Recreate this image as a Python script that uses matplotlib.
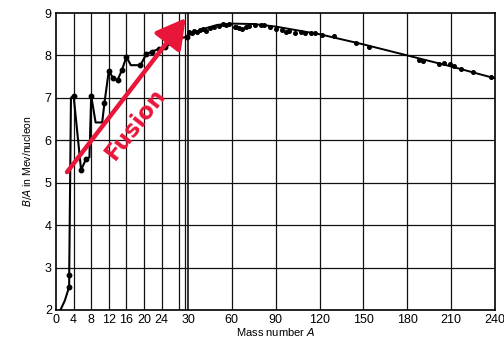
import numpy as np
import matplotlib
matplotlib.use("Agg")
import matplotlib.pyplot as plt

# ---- data ----
light_A = [1.0, 2.0, 3.0, 3.0, 3.4, 4.0, 5.7, 6.8, 7.6, 8.0, 9.0, 10.5, 11.0, 12.0, 13.0, 14.0, 15.0, 16.0,
           17.0, 18.0, 19.2, 20.5, 21.8, 23.3, 24.8, 26.4, 27.9, 29.8]
light_BA = [2.0, 2.22, 2.55, 2.82, 7.0, 7.05, 5.3, 5.55, 5.6, 7.05, 6.42, 6.42, 6.87, 7.64, 7.46, 7.42, 7.66, 7.97,
            7.77, 7.77, 7.77, 8.03, 8.09, 8.15, 8.20, 8.29, 8.40, 8.44]
light_dot_A = [3.0, 3.0, 4.0, 5.7, 6.8, 8.0, 11.0, 12.0, 13.0, 14.0, 15.0, 16.0, 19.2, 20.5, 21.8, 23.3, 24.8, 26.4, 27.9, 29.8]
light_dot_BA = [2.55, 2.82, 7.05, 5.3, 5.55, 7.05, 6.87, 7.64, 7.46, 7.42, 7.66, 7.97, 7.77, 8.03, 8.09, 8.15, 8.20, 8.29, 8.40, 8.44]

heavy_curve_A = [30, 40, 50, 60, 75, 90, 105, 120, 135, 150, 165, 180, 195, 210, 225, 240]
heavy_curve_BA = [8.47, 8.62, 8.72, 8.75, 8.74, 8.68, 8.59, 8.50, 8.38, 8.26, 8.13, 8.00, 7.87, 7.74, 7.60, 7.46]

heavy_dot_A = [31, 33, 34, 36, 38, 40, 42, 45, 48, 51, 54, 56, 58, 62, 63, 65, 67, 70, 72, 76, 80, 82, 86,
               90, 94, 97, 99, 103, 107, 110, 114, 117, 122, 130, 145, 154, 188, 191, 202, 205, 209, 212, 217, 225, 237]
heavy_dot_BA = [8.55, 8.52, 8.58, 8.56, 8.60, 8.62, 8.58, 8.64, 8.68, 8.70, 8.73, 8.72, 8.74, 8.66, 8.68, 8.64, 8.63,
                8.67, 8.69, 8.71, 8.72, 8.71, 8.68, 8.62, 8.59, 8.55, 8.57, 8.53, 8.56, 8.52, 8.54, 8.52, 8.49, 8.46,
                8.29, 8.19, 7.89, 7.88, 7.79, 7.81, 7.79, 7.75, 7.69, 7.60, 7.48]

x_ticks = [0, 4, 8, 12, 16, 20, 24, 30, 60, 90, 120, 150, 180, 210, 240]
x_grid = [4, 8, 12, 16, 20, 24, 28, 60, 90, 120, 150, 180, 210]
y_ticks = [2, 3, 4, 5, 6, 7, 8, 9]

K = (307 / 210) / (132 / 30)


def fwd(a):
    a = np.asarray(a, dtype=float)
    return np.where(a <= 30, a, 30 + (a - 30) * K)


def inv(u):
    u = np.asarray(u, dtype=float)
    return np.where(u <= 30, u, 30 + (u - 30) / K)


plt.rcParams['font.family'] = ['Liberation Sans Narrow', 'Liberation Sans', 'DejaVu Sans']

fig = plt.figure(figsize=(5.04, 3.39), dpi=100)
ax = fig.add_axes([56 / 504, (339 - 310) / 339, (495 - 56) / 504, (310 - 13) / 339])
ax.set_xscale('function', functions=(fwd, inv))
ax.set_xlim(0, 240)
ax.set_ylim(2, 9)

for g in x_grid:
    ax.axvline(g, color='#111111', lw=0.9, zorder=1)
ax.axvline(29.3, color='#111111', lw=0.9, zorder=1)
ax.axvline(30, color='#111111', lw=1.2, zorder=1)
for yv in y_ticks[1:-1]:
    ax.axhline(yv, color='#111111', lw=0.9, zorder=1)

ax.plot(light_A, light_BA, color='black', lw=1.5, zorder=3)
ax.plot(light_dot_A, light_dot_BA, 'o', color='black', ms=3.2, zorder=4)
ax.plot(heavy_curve_A, heavy_curve_BA, color='black', lw=1.4, zorder=3)
ax.plot(heavy_dot_A, heavy_dot_BA, 'o', color='black', ms=2.6, zorder=4)

ax.set_xticks(x_ticks)
ax.set_xticklabels([str(t) for t in x_ticks], fontsize=9)
ax.set_yticks(y_ticks)
ax.set_yticklabels([str(t) for t in y_ticks], fontsize=9)
ax.tick_params(length=0, pad=3)
for s in ax.spines.values():
    s.set_linewidth(1.2)

ax.set_xlabel('Mass number $\\mathit{A}$', fontsize=8, labelpad=0)
ax.set_ylabel('$\\mathit{B/A}$ in Mev/nucleon', fontsize=7.5, labelpad=8)

# Fusion arrow
red = '#e8173a'
ax.annotate('', xy=(29.5, 8.88), xytext=(2.5, 5.25),
            arrowprops=dict(arrowstyle='-|>,head_length=1.8,head_width=1.0', color=red, lw=3.2,
                            shrinkA=0, shrinkB=0), zorder=5)
ax.text(18.0, 6.38, 'Fusion', color=red, fontsize=16.5, fontweight='bold', rotation=52,
        ha='center', va='center', family='DejaVu Sans', zorder=5)

fig.savefig('out.png', dpi=100)
